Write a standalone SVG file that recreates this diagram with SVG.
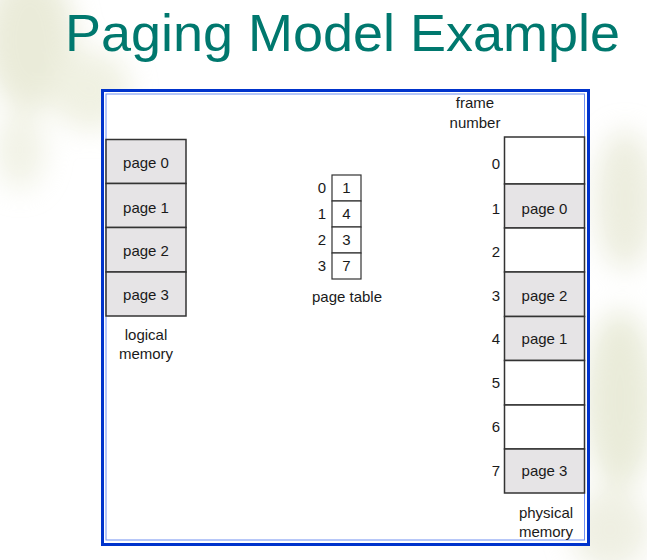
<svg xmlns="http://www.w3.org/2000/svg" width="647" height="560" viewBox="0 0 647 560">
<defs>
<style>
.t{font-family:"Liberation Sans",Arial,sans-serif;font-size:15px;fill:#1a1a1a}
.m{text-anchor:middle}
.r{text-anchor:end}
.pg{fill:#e6e4e6;stroke:#333;stroke-width:1.5}
.fr{fill:#fff;stroke:#333;stroke-width:1.5}
.pt{fill:#fff;stroke:#333;stroke-width:1.2}
</style>
<filter id="blur" x="-50%" y="-50%" width="200%" height="200%"><feGaussianBlur stdDeviation="14"/></filter>
</defs>
<rect width="647" height="560" fill="#fff"/>
<g id="background" filter="url(#blur)" opacity="0.5">
<ellipse cx="30" cy="40" rx="45" ry="70" fill="#d6d8b4"/>
<ellipse cx="90" cy="90" rx="40" ry="40" fill="#e1e3c6"/>
<ellipse cx="20" cy="150" rx="25" ry="40" fill="#e4e6ce"/>
<ellipse cx="625" cy="200" rx="30" ry="70" fill="#dadcbe"/>
<ellipse cx="620" cy="400" rx="35" ry="90" fill="#d4d8b4"/>
<ellipse cx="610" cy="530" rx="40" ry="40" fill="#dfe0c6"/>
</g>
<text x="65" y="51" font-family="Liberation Sans,Arial,sans-serif" font-size="52" fill="#00786e" textLength="555" lengthAdjust="spacingAndGlyphs">Paging Model Example</text>
<g id="frame">
<rect x="102.5" y="90.5" width="486" height="454" fill="#fff" stroke="#0033cc" stroke-width="3"/>
<rect x="106" y="94" width="478.5" height="446" fill="none" stroke="#6f8ff0" stroke-width="1"/>
</g>
<g id="logical-memory">
<rect class="pg" x="106" y="139.5" width="80" height="44"/>
<rect class="pg" x="106" y="183.5" width="80" height="44"/>
<rect class="pg" x="106" y="227.5" width="80" height="44.5"/>
<rect class="pg" x="106" y="272" width="80" height="44"/>
<text class="t m" x="146" y="168">page 0</text>
<text class="t m" x="146" y="213">page 1</text>
<text class="t m" x="146" y="256">page 2</text>
<text class="t m" x="146" y="300">page 3</text>
<text class="t m" x="146" y="340">logical</text>
<text class="t m" x="146" y="359">memory</text>
</g>
<g id="page-table">
<rect class="pt" x="332" y="175" width="29" height="26"/>
<rect class="pt" x="332" y="201" width="29" height="26"/>
<rect class="pt" x="332" y="227" width="29" height="26"/>
<rect class="pt" x="332" y="253" width="29" height="26"/>
<text class="t m" x="346.5" y="193">1</text>
<text class="t m" x="346.5" y="219">4</text>
<text class="t m" x="346.5" y="245">3</text>
<text class="t m" x="346.5" y="271">7</text>
<text class="t m" x="322" y="193">0</text>
<text class="t m" x="322" y="219">1</text>
<text class="t m" x="322" y="245">2</text>
<text class="t m" x="322" y="271">3</text>
<text class="t m" x="347" y="302">page table</text>
</g>
<g id="physical-memory">
<rect class="fr" x="504.5" y="137" width="80" height="47"/>
<rect class="pg" x="504.5" y="184" width="80" height="44"/>
<rect class="fr" x="504.5" y="228" width="80" height="44"/>
<rect class="pg" x="504.5" y="272" width="80" height="44.5"/>
<rect class="pg" x="504.5" y="316.5" width="80" height="44"/>
<rect class="fr" x="504.5" y="360.5" width="80" height="44.5"/>
<rect class="fr" x="504.5" y="405" width="80" height="44"/>
<rect class="pg" x="504.5" y="449" width="80" height="44"/>
<text class="t m" x="544.5" y="214">page 0</text>
<text class="t m" x="544.5" y="301">page 2</text>
<text class="t m" x="544.5" y="344">page 1</text>
<text class="t m" x="544.5" y="476">page 3</text>
<text class="t r" x="500" y="169">0</text>
<text class="t r" x="500" y="214">1</text>
<text class="t r" x="500" y="257">2</text>
<text class="t r" x="500" y="301">3</text>
<text class="t r" x="500" y="344">4</text>
<text class="t r" x="500" y="388">5</text>
<text class="t r" x="500" y="432">6</text>
<text class="t r" x="500" y="476">7</text>
<text class="t m" x="475" y="108">frame</text>
<text class="t m" x="475" y="128">number</text>
<text class="t m" x="546" y="518">physical</text>
<text class="t m" x="546" y="537">memory</text>
</g>
</svg>
